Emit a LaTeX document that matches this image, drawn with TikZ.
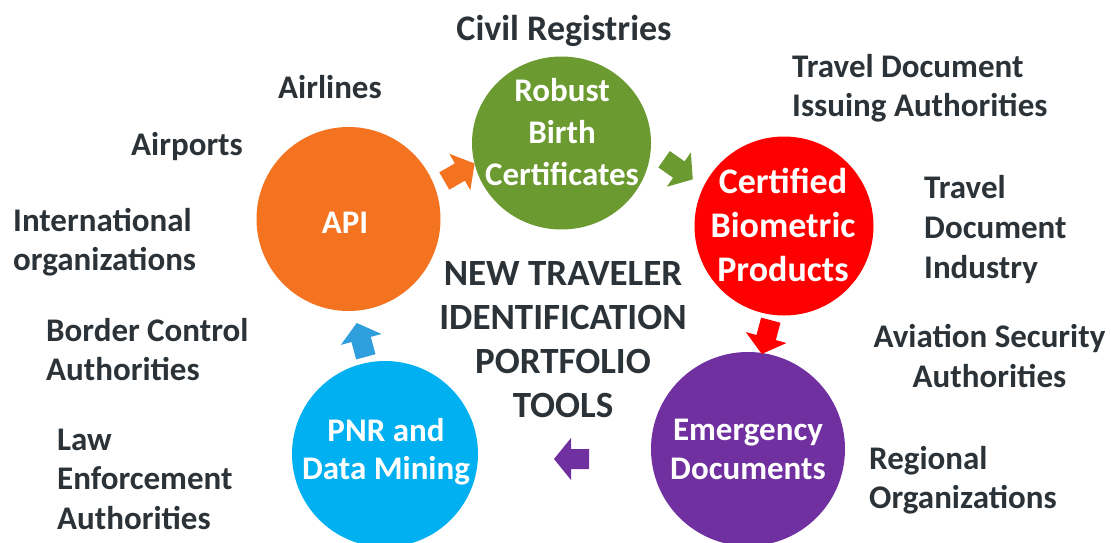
\documentclass[tikz,border=0pt]{standalone}
\usepackage{fontspec}
\usetikzlibrary{shapes.geometric}
\setmainfont{Carlito}
\definecolor{cOrange}{HTML}{F37321}
\definecolor{cGreen}{HTML}{6B9A30}
\definecolor{cRed}{HTML}{FF0000}
\definecolor{cPurple}{HTML}{7030A0}
\definecolor{cBlue}{HTML}{00B0F0}
\definecolor{cBlueArrow}{HTML}{2E9EDC}
\definecolor{txt}{HTML}{2C3338}
\newcommand\blockarr[4]{%
  \fill[#4, shift={(#1,#2)}, rotate=#3]
    (-17,-10) -- (1,-10) -- (1,-21) -- (18,0) -- (1,21) -- (1,10) -- (-17,10) -- cycle;}
\tikzset{
  disc/.style={circle, inner sep=0pt, minimum size=#1},
  lbl/.style={inner sep=0pt, text=txt, align=left, anchor=north west, font=\bfseries\fontsize{33}{#1}\selectfont},
  lblc/.style={inner sep=0pt, text=txt, align=center, anchor=north, font=\bfseries\fontsize{33}{#1}\selectfont},
  big/.style={inner sep=0pt, text=txt, align=center, anchor=north, font=\bfseries\fontsize{36}{#1}\selectfont},
  title/.style={inner sep=0pt, text=txt, align=center, anchor=north, font=\bfseries\fontsize{37}{#1}\selectfont},
  intext/.style={inner sep=0pt, text=white, align=center, anchor=north, font=\bfseries\fontsize{33}{#1}\selectfont},
  intextbig/.style={inner sep=0pt, text=white, align=center, anchor=north, font=\bfseries\fontsize{36}{#1}\selectfont},
}
\begin{document}
\begin{tikzpicture}[x=1pt,y=-1pt]
\useasboundingbox (0,0) rectangle (1111,543);
\fill[white] (0,0) rectangle (1111,543);
% circles
\node[disc=184pt, fill=cOrange] (api) at (348.5,219) {};
\node[ellipse, inner sep=0pt, minimum width=179pt, minimum height=173pt, fill=cGreen] (rbc) at (561.5,143) {};
\node[disc=179pt, fill=cRed] (cbp) at (784,226) {};
\node[disc=194pt, fill=cPurple] (emd) at (748,449) {};
\node[disc=186pt, fill=cBlue] (pnr) at (385,454) {};
% block arrows
\blockarr{459}{172.5}{30}{cOrange}
\blockarr{678}{169}{-35}{cGreen}
\blockarr{766.4}{336.6}{-105}{cRed}
\blockarr{572}{459}{180}{cPurple}
\blockarr{361.4}{340.4}{105}{cBlueArrow}
% circle texts
\node[intext=42] (rbc-t) at (562,{101-0.7*42}) {\strut Robust\\Birth\\Certificates};
\node[intext=40, anchor=base] (api-t) at (345,233) {API};
\node[intextbig=44] (cbp-t) at (783,{193-0.7*44}) {\strut Certified\\Biometric\\Products};
\node[intext=39] (emd-t) at (748,{440-0.7*39}) {\strut Emergency\\Documents};
\node[intext=38] (pnr-t) at (386,{441-0.7*38}) {\strut PNR and\\Data Mining};
% center title
\node[title=44] (ttl) at (563,{285-0.7*44}) {\strut NEW TRAVELER\\IDENTIFICATION\\PORTFOLIO\\TOOLS};
% labels
\node[big=44, anchor=base] (civil) at (564,41) {Civil Registries};
\node[lbl=38, anchor=base west] (airlines) at (278,99) {Airlines};
\node[lbl=38, anchor=base west] (airports) at (131,155) {Airports};
\node[lbl=39] (intl) at (13,{231-0.7*39}) {\strut International\\organizations};
\node[lbl=39] (border) at (46,{341-0.7*39}) {\strut Border Control\\Authorities};
\node[lbl=39.5] (law) at (57,{450-0.7*39.5}) {\strut Law\\Enforcement\\Authorities};
\node[lbl=39] (tdia) at (792,{77-0.7*39}) {\strut Travel Document\\Issuing Authorities};
\node[lbl=40] (tdi) at (924,{198-0.7*40}) {\strut Travel\\Document\\Industry};
\node[lblc=40] (asa) at (989.5,{347-0.7*40}) {\strut Aviation Security\\Authorities};
\node[lbl=39] (reg) at (869,{469-0.7*39}) {\strut Regional\\Organizations};
\end{tikzpicture}
\end{document}
